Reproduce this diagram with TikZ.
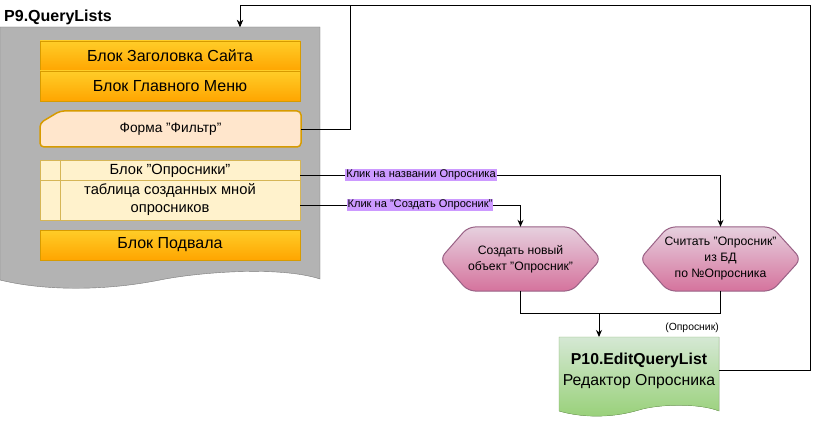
\documentclass[tikz,border=0pt]{standalone}
\usepackage{fontspec}
\setmainfont{Liberation Sans}
\usetikzlibrary{arrows.meta}
\newcommand{\dq}{\char34{}}
\definecolor{grayfill}{HTML}{B3B3B3}
\definecolor{grayline}{HTML}{7A7A7A}
\definecolor{orTop}{HTML}{FFCD28}
\definecolor{orBot}{HTML}{FFA500}
\definecolor{orLine}{HTML}{D79B00}
\definecolor{peach}{HTML}{FFE6CC}
\definecolor{yel}{HTML}{FFF2CC}
\definecolor{yelLine}{HTML}{D6B656}
\definecolor{pkTop}{HTML}{E6D0DE}
\definecolor{pkBot}{HTML}{D5739D}
\definecolor{pkLine}{HTML}{996185}
\definecolor{gnTop}{HTML}{D5E8D4}
\definecolor{gnBot}{HTML}{97D077}
\definecolor{gnLine}{HTML}{82B366}
\definecolor{lbl}{HTML}{CC99FF}
\tikzset{
  obox/.style={draw=orLine, top color=orTop, bottom color=orBot, minimum width=260pt, minimum height=30pt, inner sep=0pt, font=\fontsize{16}{18}\selectfont},
  arr/.style={-{Stealth[length=7pt,width=6pt]}, line width=0.9pt},
  conn/.style={line width=0.9pt},
  elabel/.style={fill=lbl, inner sep=1pt, font=\fontsize{11.1}{13}\selectfont},
  hexbg/.style={draw=pkLine, top color=pkTop, bottom color=pkBot, line width=1pt, rounded corners=7pt},
  hextxt/.style={align=center, inner sep=0pt, minimum width=160pt, minimum height=64pt, font=\fontsize{12.2}{16}\selectfont}
}
\begin{document}
\begin{tikzpicture}[x=1pt,y=-1pt]
\useasboundingbox (0,0) rectangle (819,422);
% P9 document shape
\fill[grayfill, draw=grayline] (0,27) -- (320,27) -- (320,279)
  .. controls (280,266) and (200,272) .. (160,280)
  .. controls (100,292) and (40,290) .. (0,280) -- cycle;
\node[anchor=base west, font=\bfseries\fontsize{16}{18}\selectfont, inner sep=0pt] (t9) at (4,22) {P9.QueryLists};
\coordinate (p9in) at (240,27);
% orange boxes
\node[obox] (hdrbox) at (170,56) {Блок Заголовка Сайта};
\node[obox] (menu) at (170,86) {Блок Главного Меню};
\node[obox] (foot) at (170,245) {Блок Подвала};
% filter form
\draw[draw=orLine, fill=peach, line width=1.5pt, rounded corners=4pt] (40,123) -- (60,111) -- (301,111) -- (301,147) -- (40,147) -- cycle;
\node[inner sep=0pt, minimum width=261pt, minimum height=37pt, font=\fontsize{13.7}{16}\selectfont] (filter) at (170.5,129) {Форма \dq Фильтр\dq};
% table
\draw[draw=yelLine, fill=yel] (40,160) rectangle (300,220);
\draw[draw=yelLine] (40,180) -- (300,180);
\draw[draw=yelLine] (60,160) -- (60,220);
\node[inner sep=0pt, minimum width=260pt, minimum height=20pt, font=\fontsize{14.7}{17}\selectfont] (thead) at (170,171) {Блок \dq Опросники\dq};
\node[inner sep=0pt, minimum width=260pt, minimum height=40pt, align=center, font=\fontsize{14.7}{18}\selectfont] (tbody) at (170,200) {таблица созданных мной\\опросников};
\coordinate (theadR) at (300,175);
\coordinate (tbodyR) at (300,205);
% hexagons
\draw[hexbg] (440,259) -- (468,227) -- (572,227) -- (601,259) -- (572,291) -- (468,291) -- cycle;
\node[hextxt] (h1) at (520.5,259) {Создать новый\\объект \dq Опросник\dq};
\draw[hexbg] (640,259) -- (668,227) -- (772,227) -- (801,259) -- (772,291) -- (668,291) -- cycle;
\node[hextxt] (h2) at (720.5,259) {Считать \dq Опросник\dq\\из БД\\по №Опросника};
% P10 document
\fill[draw=gnLine, top color=gnTop, bottom color=gnBot] (559,337) -- (719,337) -- (719,411)
  .. controls (699,403) and (659,404) .. (639,410)
  .. controls (609,419) and (579,417) .. (559,411) -- cycle;
\node[align=center, inner sep=0pt, minimum width=160pt, minimum height=76pt, font=\fontsize{15.8}{21}\selectfont] (p10) at (639,371) {\textbf{P10.EditQueryList}\\Редактор Опросника};
\node[anchor=base east, inner sep=0pt, font=\fontsize{10.4}{12}\selectfont] (olbl) at (719,330) {(Опросник)};
\coordinate (p10in) at (599,337);
\coordinate (p10R) at (719,370);
\coordinate (merge) at (599,313);
% connectors
\draw[arr] (filter.east) -| (350,5) -| (p9in);
\draw[arr] (p10R) -| (810,5) -| (p9in);
\draw[arr] (theadR) -| (h2.north);
\draw[arr] (tbodyR) -| (h1.north);
\draw[conn] (h1.south) |- (merge);
\draw[conn] (h2.south) |- (merge);
\draw[arr] (merge) -- (p10in);
\node[elabel] (l1) at (421,175) {Клик на названии Опросника};
\node[elabel] (l2) at (420,205) {Клик на \dq Создать Опросник\dq};
\end{tikzpicture}
\end{document}
